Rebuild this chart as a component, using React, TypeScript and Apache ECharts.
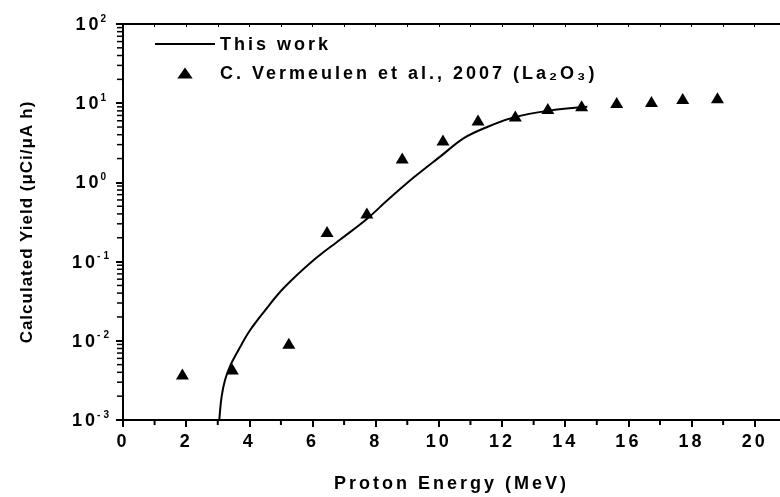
import React, { useEffect, useRef } from 'react';
import * as echarts from 'echarts';

const FONT = '"Liberation Sans", Arial, sans-serif';

// "This work" calculated yield curve (MeV, µCi/µAh)
const curveEnergy = [3.05, 3.12, 3.23, 3.41, 3.69, 4.0, 4.45, 5.08, 6.03, 6.88, 7.72, 8.36, 9.2, 10.05, 10.79, 11.53, 12.37, 13.43, 14.7];
const curveYield = [0.001, 0.00194, 0.0032, 0.005, 0.0081, 0.0132, 0.0229, 0.046, 0.104, 0.19, 0.345, 0.59, 1.15, 2.13, 3.62, 5.0, 6.6, 8.0, 9.0];

// C. Vermeulen et al., 2007 (La2O3)
const refEnergy = [1.88, 3.46, 5.25, 6.46, 7.72, 8.84, 10.13, 11.24, 12.42, 13.45, 14.52, 15.63, 16.73, 17.72, 18.82];
const refYield = [0.0038, 0.0044, 0.0093, 0.24, 0.41, 2.04, 3.42, 6.13, 6.9, 8.6, 9.3, 10.2, 10.5, 11.5, 11.7];

const xMajorTicks = [0, 2, 4, 6, 8, 10, 12, 14, 16, 18, 20];
const xMinorTicks = [1, 3, 5, 7, 9, 11, 13, 15, 17, 19];
const xTopTicks = [0, 1, 2, 3, 4, 5, 6, 7, 8, 9, 10, 11, 12, 13, 14, 15, 16, 17, 18, 19, 20];
const yDecades = [-3, -2, -1, 0, 1];
const yMinorSteps = [2, 3, 4, 5, 6, 7, 8, 9];

const NAME_CURVE = 'This work';
const NAME_REF = 'C. Vermeulen et al., 2007 (La\u2082O\u2083)';

export default function App() {
  const ref = useRef<HTMLDivElement>(null);

  useEffect(() => {
    const el = ref.current!;
    const chart = echarts.init(el, null, { renderer: 'svg' });

    const yMinor: number[][] = [];
    yDecades.forEach((d) => yMinorSteps.forEach((m) => yMinor.push([0, m * Math.pow(10, d)])));
    const xMinor = xMinorTicks.map((v) => [v, 0.001]);

    const fixSpacing = () => {
      el.querySelectorAll('text').forEach((t) => {
        if ((t.textContent || '').startsWith('Calculated')) {
          (t as SVGTextElement).style.letterSpacing = '1px';
        }
      });
    };
    chart.on('finished', fixSpacing);

    const black = '#000';

    chart.setOption({
      animation: false,
      textStyle: { fontFamily: FONT },
      grid: { left: 123, right: 0, top: 24, bottom: 73, containLabel: false },
      legend: {
        orient: 'vertical',
        left: 155,
        top: 34,
        padding: 0,
        itemWidth: 60,
        itemHeight: 11,
        itemGap: 9,
        symbolKeepAspect: true,
        textStyle: { fontSize: 18, fontWeight: 'bold', color: black, fontFamily: FONT, lineHeight: 20 },
        data: [
          { name: NAME_CURVE, icon: 'path://M0,0H60V2H0Z', itemStyle: { color: black } },
          { name: NAME_REF, icon: 'path://M7,0L14,10L0,10Z', itemStyle: { color: black } },
        ],
      },
      xAxis: [
        {
          type: 'value',
          position: 'bottom',
          min: 0,
          max: 20.8,
          name: 'Proton Energy (MeV)',
          nameLocation: 'middle',
          nameGap: 54,
          nameTextStyle: { fontSize: 18, fontWeight: 'bold', color: black, fontFamily: FONT },
          axisLine: { onZero: false, lineStyle: { color: black, width: 2 } },
          axisTick: { customValues: xMajorTicks, length: 7, lineStyle: { color: black, width: 2 } },
          axisLabel: { customValues: xMajorTicks, fontSize: 18, fontWeight: 'bold', color: black, margin: 12, fontFamily: FONT },
          splitLine: { show: false },
        },
        {
          type: 'value',
          position: 'top',
          min: 0,
          max: 20.8,
          axisLine: { onZero: false, lineStyle: { color: black, width: 2 } },
          axisTick: { inside: true, customValues: xTopTicks, length: 3, lineStyle: { color: black, width: 1 } },
          axisLabel: { show: false },
          splitLine: { show: false },
        },
      ],
      yAxis: {
        type: 'log',
        logBase: 10,
        min: 0.001,
        max: 100,
        splitNumber: 5,
        name: 'Calculated Yield (\u03bcCi/\u03bcA h)',
        nameLocation: 'middle',
        nameGap: 88,
        nameTextStyle: { fontSize: 17, fontWeight: 'bold', color: black, fontFamily: FONT },
        axisLine: { show: true, onZero: false, lineStyle: { color: black, width: 2 } },
        axisTick: { show: true, length: 7, lineStyle: { color: black, width: 2 } },
        axisLabel: {
          margin: 17,
          formatter: (v: number) => `{b|10}{s|${Math.round(Math.log10(v))}}`,
          rich: {
            b: { fontSize: 18, fontWeight: 'bold', color: black, fontFamily: FONT, lineHeight: 22, align: 'left', padding: [0, 5, 0, 0] },
            s: { fontSize: 10, fontWeight: 'bold', color: black, fontFamily: FONT, lineHeight: 11, verticalAlign: 'top', align: 'left' },
          },
        },
        splitLine: { show: false },
      },
      series: [
        {
          type: 'scatter',
          name: 'yMinorTicks',
          silent: true,
          clip: false,
          z: 5,
          data: yMinor,
          symbol: 'rect',
          symbolSize: [5, 1.5],
          symbolOffset: [-3.5, 0],
          itemStyle: { color: black, opacity: 1 },
        },
        {
          type: 'scatter',
          name: 'xMinorTicks',
          silent: true,
          clip: false,
          z: 5,
          data: xMinor,
          symbol: 'rect',
          symbolSize: [2, 4],
          symbolOffset: [0, 3],
          itemStyle: { color: black, opacity: 1 },
        },
        {
          type: 'line',
          name: NAME_CURVE,
          data: curveEnergy.map((x, i) => [x, curveYield[i]]),
          symbol: 'none',
          showSymbol: false,
          smooth: 0.35,
          lineStyle: { color: black, width: 2 },
          itemStyle: { color: black },
        },
        {
          type: 'scatter',
          name: NAME_REF,
          data: refEnergy.map((x, i) => [x, refYield[i]]),
          symbol: 'triangle',
          symbolSize: [13, 11],
          itemStyle: { color: black, opacity: 1 },
        },
      ],
    });
    fixSpacing();

    return () => {
      chart.dispose();
    };
  }, []);

  return (
    <>
      <style>{`#chart text { letter-spacing: 3px; }`}</style>
      <div id="chart" ref={ref} style={{ position: 'fixed', left: 0, top: 0, width: 780, height: 497 }} />
    </>
  );
}
